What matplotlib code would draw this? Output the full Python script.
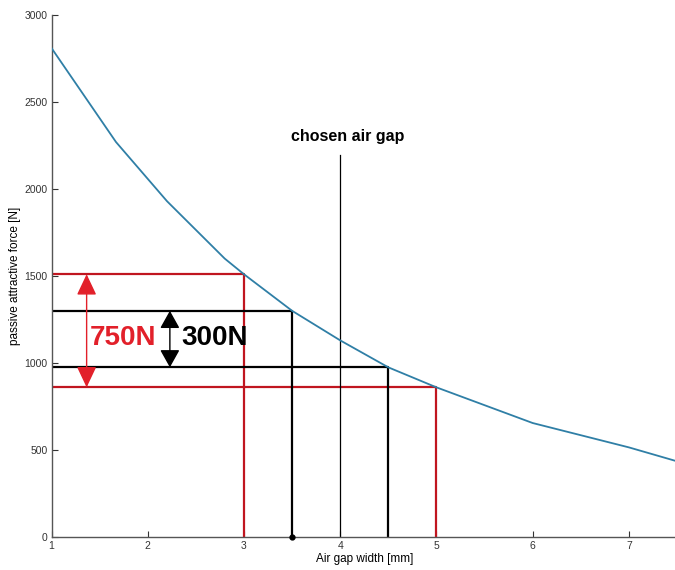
import matplotlib.pyplot as plt

# air gap width [mm] vs. passive attractive force [N]
gap = [1.0, 1.67, 2.2, 2.8, 3.0, 3.5, 4.0, 4.5, 5.0, 6.0, 7.0, 7.5]
force = [2810, 2270, 1930, 1600, 1510, 1300, 1130, 975, 860, 655, 515, 435]

# operating range (red) and tolerance band (black)
range_gaps = [3.0, 5.0]
range_forces = [1510, 860]
band_gaps = [3.5, 4.5]
band_forces = [1300, 975]
chosen_gap = 4.0
chosen_top = 2195

xticks = [1, 2, 3, 4, 5, 6, 7]
yticks = [0, 500, 1000, 1500, 2000, 2500, 3000]

plt.rcParams['font.family'] = ['Liberation Sans', 'DejaVu Sans']

RED_LINE = '#c0151f'
RED_TEXT = '#e2202a'
CURVE = '#2f7fa6'

fig = plt.figure(figsize=(6.75, 5.70), dpi=100)
ax = fig.add_axes([0.0763, 0.0579, 0.9267, 0.9158])

ax.plot(gap, force, color=CURVE, lw=1.3, zorder=3)

for g, f in zip(range_gaps, range_forces):
    ax.plot([1, g, g], [f, f, 0], color=RED_LINE, lw=1.6, zorder=2)
for g, f in zip(band_gaps, band_forces):
    ax.plot([1, g, g], [f, f, 0], color='black', lw=1.6, zorder=2)
ax.plot(band_gaps[0], 0, 'o', color='black', ms=3.5, clip_on=False, zorder=4)

ax.plot([chosen_gap, chosen_gap], [0, chosen_top], color='black', lw=0.9)
ax.text(chosen_gap + 0.08, 2300, 'chosen air gap', ha='center', va='center',
        fontsize=11.5, fontweight='bold')

# double arrows showing the force differences
ax.annotate('', xy=(1.365, range_forces[1]), xytext=(1.365, range_forces[0]),
            arrowprops=dict(arrowstyle='<|-|>,head_length=0.72,head_width=0.34',
                            color=RED_TEXT, lw=1.0, mutation_scale=18,
                            shrinkA=0, shrinkB=0))
ax.annotate('', xy=(2.23, band_forces[1]), xytext=(2.23, band_forces[0]),
            arrowprops=dict(arrowstyle='<|-|>,head_length=0.68,head_width=0.38',
                            color='black', lw=1.0, mutation_scale=16,
                            shrinkA=0, shrinkB=0))
ax.text(1.745, 1144, '750N', color=RED_TEXT, fontsize=20, fontweight='bold',
        ha='center', va='center')
ax.text(2.69, 1144, '300N', color='black', fontsize=20, fontweight='bold',
        ha='center', va='center')

ax.set_xlim(1, 7.5)
ax.set_ylim(0, 3000)
ax.set_xticks(xticks)
ax.set_yticks(yticks)
ax.tick_params(direction='in', length=4, width=0.8, labelsize=7.5,
               colors='#333333', pad=3)
for side in ('top', 'right'):
    ax.spines[side].set_visible(False)
for side in ('left', 'bottom'):
    ax.spines[side].set_color('#555555')
    ax.spines[side].set_linewidth(1.0)

ax.set_xlabel('Air gap width [mm]', fontsize=8.5, labelpad=1)
ax.set_ylabel('passive attractive force [N]', fontsize=8.5, labelpad=2)

fig.savefig('out.png', dpi=100)
